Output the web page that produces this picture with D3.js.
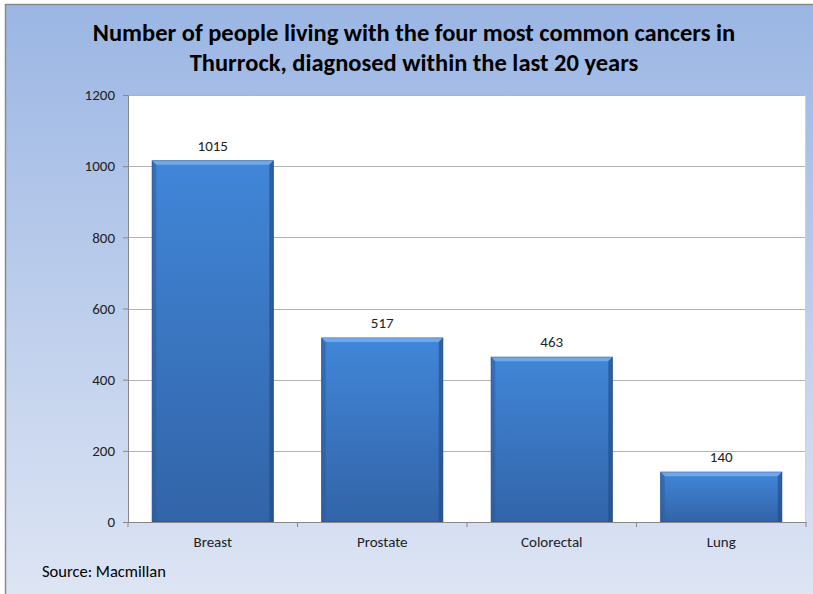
<!DOCTYPE html>
<html><head><meta charset="utf-8">
<script src="https://cdn.jsdelivr.net/npm/d3@7"></script>
<style>body{margin:0;background:#fff;}svg{display:block;}</style>
</head><body>
<script>
const categories = ["Breast", "Prostate", "Colorectal", "Lung"];
const values = [1015, 517, 463, 140];
const yTicks = [0, 200, 400, 600, 800, 1000, 1200];
const titleLines = ["Number of people living with the four most common cancers in", "Thurrock, diagnosed within the last 20 years"];
const sourceText = "Source: Macmillan";

(function(){
const W = 813, H = 594;
const svg = d3.select("body").append("svg").attr("width", W).attr("height", H);
const defs = svg.append("defs");
const bg = defs.append("linearGradient").attr("id","bg").attr("x1",0).attr("y1",0).attr("x2",0).attr("y2",1);
bg.append("stop").attr("offset","0%").attr("stop-color","#9bb6e4");
bg.append("stop").attr("offset","100%").attr("stop-color","#dfe6f4");
const bar = defs.append("linearGradient").attr("id","bar").attr("x1",0).attr("y1",0).attr("x2",0).attr("y2",1);
bar.append("stop").attr("offset","0%").attr("stop-color","#4186d8");
bar.append("stop").attr("offset","100%").attr("stop-color","#3264a8");

svg.append("rect").attr("x",0).attr("y",0).attr("width",W).attr("height",H).attr("fill","#fff");
svg.append("rect").attr("x",5.5).attr("y",4.5).attr("width",W+10).attr("height",H+10).attr("fill","url(#bg)").attr("stroke","#8a8a8a").attr("stroke-width",1.5);

const font = "Calibri, Carlito, Lato, 'Open Sans', sans-serif";
svg.selectAll("text.title").data(titleLines).join("text").attr("class","title")
  .attr("x", 414).attr("y",(d,i)=>41+i*30).attr("text-anchor","middle")
  .attr("font-family",font).attr("font-weight","bold").attr("font-size",24.5).attr("fill","#000").text(d=>d);

const pl = 128, pr = 806, pt = 95, pb = 522;
svg.append("rect").attr("x",pl).attr("y",pt).attr("width",pr-pl).attr("height",pb-pt).attr("fill","#fff");

const x = d3.scaleBand().domain(categories).range([pl,pr]).paddingInner(0.286).paddingOuter(0.143);
const y = d3.scaleLinear().domain([0,1200]).range([pb,pt]);

svg.append("g").selectAll("line").data(yTicks.filter(d=>d>0)).join("line")
  .attr("x1",pl).attr("x2",pr).attr("y1",d=>Math.round(y(d))+0.5).attr("y2",d=>Math.round(y(d))+0.5)
  .attr("stroke","#b3b3b3").attr("stroke-width",1);

svg.append("line").attr("x1",pr-0.5).attr("x2",pr-0.5).attr("y1",pt).attr("y2",pb).attr("stroke","#d0d0d0");

const yAxis = svg.append("g").attr("transform",`translate(${pl},0)`)
  .call(d3.axisLeft(y).tickValues(yTicks).tickFormat(d3.format("d")).tickSize(5).tickPadding(8));
yAxis.select(".domain").attr("stroke","#888");
yAxis.selectAll(".tick line").attr("stroke","#888");
yAxis.selectAll("text").attr("font-family",font).attr("font-size",15).attr("fill","#222");

const g = svg.append("g");
categories.forEach((c,i)=>{
  const x0 = x(c), w = x.bandwidth(), y0 = y(values[i]), h = pb - y0;
  g.append("rect").attr("x",x0).attr("y",y0).attr("width",w).attr("height",h).attr("fill","url(#bar)").attr("stroke","#2a5590").attr("stroke-width",1);
  const b = 4;
  g.append("polygon").attr("points",`${x0},${y0} ${x0+w},${y0} ${x0+w-b},${y0+b} ${x0+b},${y0+b}`).attr("fill","#7cb0ec").attr("opacity",0.8);
  g.append("polygon").attr("points",`${x0},${y0} ${x0+b},${y0+b} ${x0+b},${pb} ${x0},${pb}`).attr("fill","#2a5a9a").attr("opacity",0.5);
  g.append("polygon").attr("points",`${x0+w},${y0} ${x0+w-b},${y0+b} ${x0+w-b},${pb} ${x0+w},${pb}`).attr("fill","#1f4a85").attr("opacity",0.6);
  g.append("text").attr("x",x0+w/2).attr("y",y0-10).attr("text-anchor","middle")
    .attr("font-family",font).attr("font-size",15).attr("fill","#222").text(values[i]);
});

const xAxis = svg.append("g").attr("transform",`translate(0,${pb})`)
  .call(d3.axisBottom(x).tickSize(0).tickPadding(14));
xAxis.select(".domain").attr("stroke","#888");
xAxis.selectAll("text").attr("font-family",font).attr("font-size",15).attr("fill","#222");
const bounds = [pl, ...categories.map(c=>x(c)+x.bandwidth()/2+x.step()/2)];
svg.append("g").selectAll("line").data(bounds).join("line")
  .attr("x1",d=>d).attr("x2",d=>d).attr("y1",pb).attr("y2",pb+5).attr("stroke","#888");

svg.append("text").attr("x",42).attr("y",577).attr("font-family",font).attr("font-size",16.5).attr("fill","#000").text(sourceText);
})();
</script>
</body></html>
